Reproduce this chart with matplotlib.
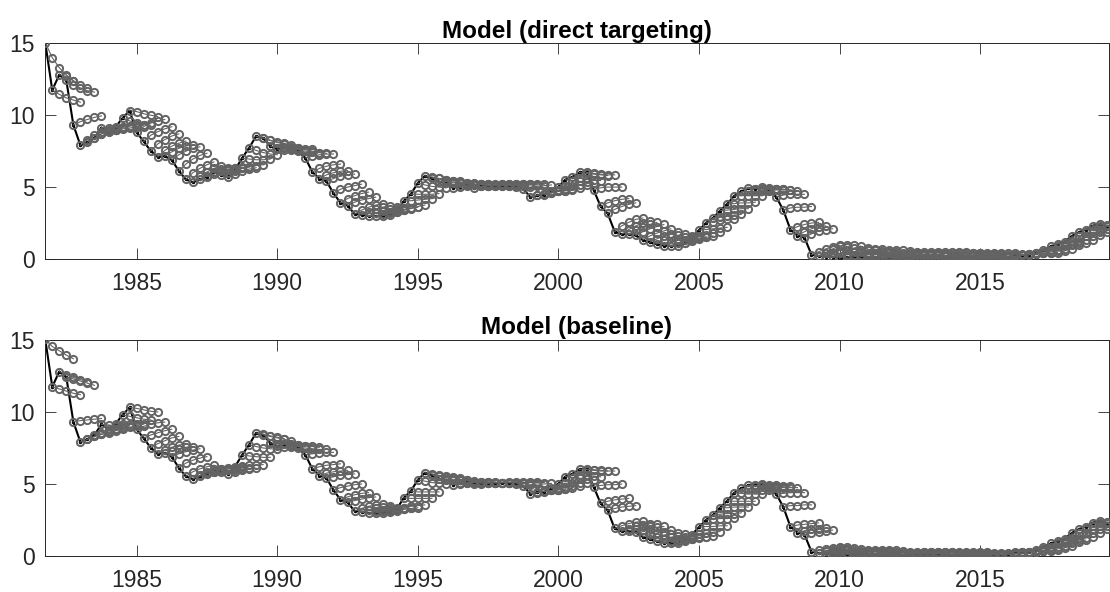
import matplotlib
matplotlib.use("Agg")
import matplotlib.pyplot as plt
import numpy as np

plt.rcParams['font.family'] = ['Liberation Sans', 'DejaVu Sans']

# quarterly short rate, 1981Q3 .. 2019Q2
rate = [15.05, 11.75,
        12.81, 12.42, 9.32, 7.91,
        8.11, 8.40, 9.14, 8.80,
        9.17, 9.80, 10.32, 8.80,
        8.18, 7.52, 7.10, 7.15,
        6.89, 6.13, 5.53, 5.34,
        5.53, 5.73, 6.03, 5.86,
        5.72, 6.21, 7.01, 7.73,
        8.54, 8.41, 7.85, 7.64,
        7.76, 7.77, 7.49, 7.02,
        6.05, 5.59, 5.41, 4.58,
        3.91, 3.72, 3.13, 3.08,
        2.99, 2.98, 3.02, 3.08,
        3.25, 4.04, 4.51, 5.28,
        5.78, 5.62, 5.38, 5.27,
        4.95, 5.04, 5.14, 4.97,
        5.06, 5.07, 5.06, 5.09,
        5.08, 5.01, 4.88, 4.31,
        4.42, 4.46, 4.70, 5.03,
        5.52, 5.71, 6.02, 6.02,
        4.82, 3.66, 3.17, 1.91,
        1.72, 1.73, 1.64, 1.33,
        1.16, 1.04, 0.93, 0.91,
        0.92, 1.08, 1.49, 2.01,
        2.51, 2.86, 3.36, 3.83,
        4.38, 4.70, 4.91, 4.90,
        4.98, 4.74, 4.30, 3.39,
        2.04, 1.63, 1.49, 0.30,
        0.21, 0.17, 0.16, 0.06,
        0.11, 0.15, 0.15, 0.14,
        0.13, 0.05, 0.02, 0.01,
        0.07, 0.09, 0.10, 0.09,
        0.09, 0.05, 0.03, 0.06,
        0.05, 0.03, 0.03, 0.02,
        0.03, 0.02, 0.04, 0.12,
        0.29, 0.26, 0.30, 0.45,
        0.60, 0.87, 1.04, 1.21,
        1.59, 1.86, 2.04, 2.32,
        2.40, 2.30]

# forecasts 1..4 quarters ahead made in each quarter, direct targeting model
fc_direct = [
    [14.0, 13.3, 12.8, 12.4], [11.45, 11.2, 11.05, 10.9],
    [12.7, 12.4, 12.1, 11.9], [12.1, 11.9, 11.7, 11.6], [9.55, 9.7, 9.85, 9.95], [8.3, 8.6, 8.8, 9.0],
    [8.4, 8.7, 8.9, 9.0], [8.7, 8.9, 9.0, 9.1], [9.1, 9.1, 9.15, 9.2], [8.95, 9.05, 9.1, 9.2],
    [9.2, 9.25, 9.3, 9.3], [9.6, 9.45, 9.35, 9.3], [10.25, 10.1, 10.0, 9.9], [9.2, 9.45, 9.6, 9.7],
    [8.6, 8.85, 9.05, 9.2], [8.0, 8.3, 8.55, 8.7], [7.55, 7.85, 8.05, 8.2], [7.45, 7.7, 7.85, 7.95],
    [7.25, 7.5, 7.7, 7.8], [6.6, 6.95, 7.2, 7.35], [6.0, 6.3, 6.55, 6.75], [5.75, 6.05, 6.3, 6.45],
    [5.8, 6.05, 6.25, 6.35], [5.9, 6.1, 6.25, 6.35], [6.1, 6.2, 6.3, 6.4], [6.0, 6.15, 6.3, 6.4],
    [5.9, 6.1, 6.25, 6.35], [6.3, 6.4, 6.5, 6.55], [6.95, 6.9, 6.9, 6.95], [7.55, 7.4, 7.3, 7.25],
    [8.4, 8.25, 8.15, 8.05], [8.25, 8.1, 8.0, 7.9], [7.75, 7.7, 7.65, 7.6], [7.6, 7.6, 7.6, 7.6],
    [7.7, 7.7, 7.65, 7.65], [7.7, 7.6, 7.5, 7.4], [7.5, 7.45, 7.4, 7.35], [7.15, 7.25, 7.3, 7.3],
    [6.3, 6.45, 6.55, 6.6], [5.85, 6.0, 6.1, 6.15], [5.6, 5.75, 5.85, 5.9], [4.85, 5.0, 5.1, 5.2],
    [4.2, 4.4, 4.55, 4.65], [3.95, 4.1, 4.2, 4.3], [3.4, 3.6, 3.75, 3.85], [3.3, 3.45, 3.6, 3.7],
    [3.2, 3.35, 3.5, 3.6], [3.15, 3.3, 3.45, 3.55], [3.2, 3.35, 3.45, 3.55], [3.25, 3.4, 3.5, 3.6],
    [3.4, 3.55, 3.65, 3.75], [4.05, 4.1, 4.15, 4.2], [4.5, 4.5, 4.5, 4.55], [5.15, 5.05, 5.0, 4.95],
    [5.7, 5.6, 5.5, 5.45], [5.6, 5.5, 5.45, 5.4], [5.4, 5.35, 5.35, 5.3], [5.3, 5.3, 5.25, 5.25],
    [5.05, 5.15, 5.2, 5.2], [5.1, 5.15, 5.2, 5.2], [5.2, 5.2, 5.2, 5.2], [5.05, 5.1, 5.15, 5.2],
    [5.1, 5.15, 5.2, 5.2], [5.1, 5.15, 5.2, 5.2], [5.1, 5.15, 5.2, 5.2], [5.1, 5.15, 5.2, 5.2],
    [5.1, 5.15, 5.2, 5.2], [5.1, 5.15, 5.15, 5.2], [5.0, 5.05, 5.1, 5.15], [4.45, 4.55, 4.65, 4.7],
    [4.55, 4.6, 4.7, 4.75], [4.6, 4.7, 4.75, 4.8], [4.8, 4.85, 4.9, 4.95], [5.05, 5.1, 5.15, 5.15],
    [5.45, 5.4, 5.35, 5.3], [5.65, 5.55, 5.5, 5.45], [5.95, 5.9, 5.85, 5.8], [5.95, 5.9, 5.85, 5.85],
    [4.95, 5.0, 5.0, 5.0], [3.9, 4.05, 4.15, 4.2], [3.45, 3.65, 3.8, 3.9], [2.3, 2.55, 2.75, 2.85],
    [2.05, 2.3, 2.5, 2.65], [2.0, 2.25, 2.4, 2.55], [1.9, 2.1, 2.25, 2.4], [1.6, 1.8, 1.95, 2.1],
    [1.4, 1.6, 1.75, 1.9], [1.3, 1.5, 1.65, 1.75], [1.15, 1.35, 1.5, 1.6], [1.1, 1.3, 1.45, 1.55],
    [1.1, 1.3, 1.45, 1.55], [1.25, 1.4, 1.5, 1.6], [1.6, 1.7, 1.8, 1.9], [2.05, 2.1, 2.15, 2.2],
    [2.6, 2.7, 2.75, 2.8], [2.95, 3.0, 3.05, 3.1], [3.4, 3.45, 3.5, 3.5], [3.85, 3.9, 3.9, 3.95],
    [4.4, 4.4, 4.4, 4.4], [4.7, 4.7, 4.7, 4.7], [4.9, 4.85, 4.85, 4.85], [4.9, 4.85, 4.85, 4.85],
    [4.95, 4.9, 4.85, 4.8], [4.8, 4.8, 4.8, 4.75], [4.45, 4.5, 4.5, 4.5], [3.55, 3.6, 3.6, 3.65],
    [2.25, 2.4, 2.5, 2.55], [1.9, 2.1, 2.25, 2.3], [1.75, 1.95, 2.05, 2.1], [0.5, 0.7, 0.85, 0.95],
    [0.45, 0.7, 0.9, 1.0], [0.4, 0.65, 0.85, 0.95], [0.4, 0.6, 0.75, 0.9], [0.3, 0.5, 0.65, 0.75],
    [0.3, 0.5, 0.6, 0.7], [0.3, 0.45, 0.6, 0.7], [0.3, 0.45, 0.55, 0.65], [0.3, 0.4, 0.5, 0.6],
    [0.3, 0.4, 0.5, 0.6], [0.2, 0.35, 0.45, 0.55], [0.2, 0.35, 0.45, 0.5], [0.2, 0.3, 0.4, 0.5],
    [0.2, 0.35, 0.45, 0.5], [0.25, 0.35, 0.45, 0.5], [0.25, 0.35, 0.45, 0.5], [0.25, 0.35, 0.45, 0.5],
    [0.25, 0.35, 0.45, 0.5], [0.2, 0.3, 0.4, 0.5], [0.2, 0.3, 0.4, 0.45], [0.2, 0.3, 0.4, 0.45],
    [0.2, 0.3, 0.4, 0.45], [0.2, 0.3, 0.35, 0.45], [0.15, 0.25, 0.35, 0.4], [0.15, 0.25, 0.35, 0.4],
    [0.15, 0.25, 0.3, 0.4], [0.15, 0.2, 0.3, 0.35], [0.15, 0.2, 0.3, 0.35], [0.2, 0.25, 0.3, 0.35],
    [0.3, 0.35, 0.4, 0.4], [0.3, 0.35, 0.4, 0.4], [0.35, 0.4, 0.4, 0.45], [0.5, 0.5, 0.55, 0.55],
    [0.65, 0.65, 0.7, 0.7], [0.9, 0.9, 0.95, 0.95], [1.05, 1.05, 1.1, 1.1], [1.25, 1.25, 1.3, 1.3],
    [1.6, 1.6, 1.6, 1.65], [1.85, 1.85, 1.9, 1.9], [2.05, 2.05, 2.1, 2.1], [2.3, 2.3, 2.3, 2.3],
    [2.35, 2.3, 2.3, 2.3], [2.25, 2.2, 2.2, 2.2],
]

# forecasts 1..4 quarters ahead, baseline model
fc_base = [
    [14.55, 14.25, 13.95, 13.7], [11.6, 11.45, 11.3, 11.2],
    [12.6, 12.4, 12.25, 12.1], [12.3, 12.15, 12.0, 11.85], [9.4, 9.45, 9.5, 9.55], [8.1, 8.3, 8.45, 8.55],
    [8.3, 8.45, 8.6, 8.7], [8.55, 8.7, 8.8, 8.85], [9.1, 9.05, 9.05, 9.05], [8.85, 8.9, 8.95, 9.0],
    [9.15, 9.15, 9.15, 9.15], [9.7, 9.6, 9.5, 9.45], [10.25, 10.15, 10.05, 10.0], [9.0, 9.15, 9.25, 9.3],
    [8.4, 8.55, 8.7, 8.8], [7.8, 8.0, 8.2, 8.3], [7.35, 7.55, 7.7, 7.8], [7.3, 7.45, 7.55, 7.6],
    [7.1, 7.25, 7.35, 7.45], [6.45, 6.65, 6.8, 6.9], [5.85, 6.05, 6.2, 6.3], [5.6, 5.8, 5.95, 6.05],
    [5.7, 5.85, 5.95, 6.05], [5.85, 5.95, 6.05, 6.1], [6.05, 6.1, 6.1, 6.15], [5.95, 6.0, 6.05, 6.1],
    [5.85, 5.95, 6.05, 6.1], [6.25, 6.3, 6.3, 6.35], [6.95, 6.9, 6.85, 6.85], [7.6, 7.5, 7.45, 7.4],
    [8.45, 8.35, 8.25, 8.15], [8.3, 8.2, 8.1, 8.0], [7.8, 7.75, 7.7, 7.65], [7.6, 7.6, 7.6, 7.6],
    [7.7, 7.7, 7.65, 7.65], [7.7, 7.65, 7.6, 7.55], [7.5, 7.45, 7.4, 7.4], [7.1, 7.15, 7.2, 7.2],
    [6.2, 6.3, 6.35, 6.4], [5.75, 5.85, 5.9, 5.95], [5.5, 5.6, 5.65, 5.7], [4.75, 4.85, 4.95, 5.0],
    [4.1, 4.25, 4.35, 4.4], [3.85, 3.95, 4.05, 4.1], [3.3, 3.45, 3.55, 3.6], [3.2, 3.3, 3.4, 3.45],
    [3.1, 3.2, 3.3, 3.35], [3.1, 3.2, 3.25, 3.3], [3.1, 3.2, 3.25, 3.3], [3.15, 3.25, 3.3, 3.35],
    [3.35, 3.45, 3.5, 3.55], [4.0, 4.0, 4.0, 4.0], [4.45, 4.45, 4.45, 4.45], [5.2, 5.1, 5.05, 5.0],
    [5.7, 5.6, 5.55, 5.5], [5.55, 5.5, 5.45, 5.4], [5.35, 5.3, 5.3, 5.3], [5.25, 5.25, 5.25, 5.2],
    [5.0, 5.05, 5.1, 5.1], [5.1, 5.1, 5.15, 5.15], [5.15, 5.15, 5.15, 5.15], [5.0, 5.05, 5.1, 5.1],
    [5.1, 5.1, 5.1, 5.15], [5.1, 5.1, 5.1, 5.15], [5.1, 5.1, 5.1, 5.15], [5.1, 5.1, 5.1, 5.15],
    [5.1, 5.1, 5.1, 5.15], [5.05, 5.1, 5.1, 5.1], [4.95, 5.0, 5.0, 5.05], [4.4, 4.5, 4.55, 4.6],
    [4.5, 4.55, 4.6, 4.65], [4.55, 4.6, 4.65, 4.7], [4.75, 4.8, 4.85, 4.85], [5.05, 5.1, 5.1, 5.1],
    [5.45, 5.4, 5.35, 5.3], [5.65, 5.6, 5.55, 5.5], [6.0, 5.95, 5.9, 5.9], [6.0, 5.95, 5.9, 5.9],
    [4.9, 4.95, 4.95, 5.0], [3.8, 3.9, 3.95, 4.0], [3.3, 3.4, 3.45, 3.5], [2.1, 2.25, 2.35, 2.4],
    [1.9, 2.05, 2.15, 2.25], [1.9, 2.0, 2.1, 2.2], [1.8, 1.9, 2.0, 2.05], [1.5, 1.6, 1.7, 1.8],
    [1.3, 1.45, 1.55, 1.6], [1.2, 1.3, 1.4, 1.5], [1.05, 1.2, 1.3, 1.35], [1.05, 1.15, 1.25, 1.3],
    [1.05, 1.15, 1.25, 1.3], [1.2, 1.3, 1.35, 1.4], [1.55, 1.6, 1.65, 1.7], [2.05, 2.05, 2.1, 2.1],
    [2.55, 2.6, 2.6, 2.65], [2.9, 2.95, 2.95, 3.0], [3.35, 3.4, 3.4, 3.4], [3.8, 3.8, 3.8, 3.8],
    [4.35, 4.3, 4.3, 4.3], [4.65, 4.65, 4.6, 4.6], [4.85, 4.85, 4.8, 4.8], [4.9, 4.85, 4.85, 4.8],
    [4.95, 4.9, 4.85, 4.85], [4.75, 4.75, 4.75, 4.75], [4.35, 4.4, 4.4, 4.4], [3.5, 3.5, 3.55, 3.55],
    [2.15, 2.2, 2.25, 2.3], [1.75, 1.85, 1.9, 1.95], [1.6, 1.7, 1.75, 1.8], [0.4, 0.5, 0.55, 0.6],
    [0.35, 0.45, 0.55, 0.6], [0.3, 0.4, 0.5, 0.55], [0.3, 0.4, 0.45, 0.5], [0.2, 0.3, 0.35, 0.4],
    [0.2, 0.3, 0.35, 0.4], [0.25, 0.3, 0.35, 0.4], [0.25, 0.3, 0.35, 0.4], [0.2, 0.3, 0.35, 0.4],
    [0.2, 0.25, 0.3, 0.35], [0.15, 0.2, 0.25, 0.3], [0.1, 0.15, 0.2, 0.25], [0.1, 0.15, 0.2, 0.25],
    [0.15, 0.2, 0.25, 0.3], [0.15, 0.2, 0.25, 0.3], [0.15, 0.2, 0.25, 0.3], [0.15, 0.2, 0.25, 0.3],
    [0.15, 0.2, 0.25, 0.3], [0.1, 0.15, 0.2, 0.25], [0.1, 0.15, 0.2, 0.25], [0.1, 0.15, 0.2, 0.25],
    [0.1, 0.15, 0.2, 0.25], [0.1, 0.15, 0.2, 0.2], [0.1, 0.15, 0.15, 0.2], [0.1, 0.1, 0.15, 0.2],
    [0.1, 0.1, 0.15, 0.2], [0.1, 0.1, 0.15, 0.2], [0.1, 0.15, 0.15, 0.2], [0.15, 0.2, 0.2, 0.25],
    [0.3, 0.3, 0.35, 0.35], [0.3, 0.3, 0.35, 0.35], [0.35, 0.35, 0.4, 0.4], [0.5, 0.5, 0.5, 0.55],
    [0.65, 0.65, 0.7, 0.7], [0.9, 0.9, 0.9, 0.95], [1.05, 1.05, 1.1, 1.1], [1.25, 1.25, 1.25, 1.3],
    [1.6, 1.6, 1.6, 1.6], [1.85, 1.85, 1.85, 1.9], [2.05, 2.05, 2.05, 2.1], [2.3, 2.3, 2.3, 2.3],
    [2.35, 2.3, 2.3, 2.3], [2.25, 2.2, 2.2, 2.2],
]

titles = ["Model (direct targeting)", "Model (baseline)"]

dates = 1981.75 + np.arange(len(rate)) / 4.0
horizon = np.arange(5) / 4.0
grey = '#636363'
axcol = '#262626'

fig = plt.figure(figsize=(11.1, 5.92), dpi=100)
ax1 = fig.add_axes([0.0405, 0.5625, 0.9586, 0.3644])
ax2 = fig.add_axes([0.0405, 0.0608, 0.9586, 0.3649])

for ax, fc, title in zip([ax1, ax2], [fc_direct, fc_base], titles):
    ax.plot(dates, rate, '-', color='k', lw=1.5, marker='.', ms=3, zorder=2)
    for k, path in enumerate(fc):
        ax.plot(dates[k] + horizon, [rate[k]] + path, '-o', color=grey,
                lw=0.8, ms=5.2, mew=1.4, mfc='none', zorder=3)

    ax.set_xlim(1981.74, 2019.58)
    ax.set_ylim(0, 15)
    ax.set_xticks([1985, 1990, 1995, 2000, 2005, 2010, 2015])
    ax.set_yticks([0, 5, 10, 15])
    ax.tick_params(direction='in', top=True, right=True, length=7.6, width=0.6,
                   colors=axcol, labelsize=16.5)
    ax.tick_params(axis='x', pad=9)
    ax.tick_params(axis='y', pad=7)
    for sp in ax.spines.values():
        sp.set_color(axcol)
        sp.set_linewidth(0.7)
    ax.set_title(title, fontsize=17.5, fontweight='bold', pad=4)

fig.savefig('out.png', dpi=100)
